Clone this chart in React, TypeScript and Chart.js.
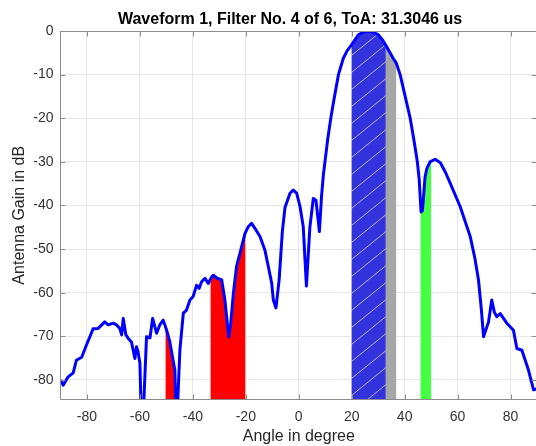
import React, { useEffect, useRef } from "react";
import { Chart, registerables } from "chart.js";

Chart.register(...registerables);

const titleText = "Waveform 1, Filter No. 4 of 6, ToA: 31.3046 us";
const xLabel = "Angle in degree";
const yLabel = "Antenna Gain in dB";

const xTicks = [-80, -60, -40, -20, 0, 20, 40, 60, 80];
const yTicks = [-80, -70, -60, -50, -40, -30, -20, -10, 0];

const angles = [
  -90, -89, -87.1, -85.2, -84, -82, -80.2, -78.9, -77.7, -75.8, -75.1, -73.3, -72, -70.1, -68.8,
  -67.6, -66.9, -66.3, -65.3, -64.4, -63.2, -61.9, -61.3, -60.7, -60, -59.2, -57.5, -56.2, -55.2,
  -53.7, -52.5, -51.2, -49.9, -48.7, -46.8, -46.2, -44.9, -43.6, -42.4, -41.1, -39.9, -38.6, -37.6,
  -36.7, -35.4, -34.2, -32.9, -32.3, -30.8, -29.1, -27.9, -27, -26.4, -25.7, -24.7, -23.5, -21.6,
  -20.3, -19.1, -17.8, -16.5, -14.6, -12.8, -11.5, -10.2, -9.6, -8.6, -7.4, -6.2, -5.2, -3.3, -2.1,
  -0.8, 0.5, 1.7, 2.9, 4.2, 5.5, 6.5, 7.8, 8.6, 9.3, 9.9, 10.9, 12.1, 13.5, 15.0, 16.8, 18.3, 20,
  22.5, 24.3, 26.3, 28.2, 30.1, 31.6, 33, 35.7, 36.8, 38.3, 40.2, 42.1, 43.5, 44.8, 45.5, 46.2,
  46.7, 47.1, 47.7, 48.4, 49.6, 51.5, 53.5, 55.5, 57.2, 61, 64.8, 66.5, 67.9, 69, 69.8, 71.7, 72.9,
  73.9, 74.8, 76.1, 78.6, 81.1, 82.4, 84.3, 86.8, 88.7, 90,
];

const gainDb = [
  -80, -81.2, -79.3, -78.4, -75.5, -74.8, -72, -70.1, -68.3, -68.2, -67.8, -66.7, -67.4, -67, -67.4,
  -68.2, -69.7, -65.9, -69.7, -70.5, -71.3, -75.1, -72.4, -73.6, -76.2, -95, -70.1, -70.4, -65.9,
  -69.3, -67.4, -66.3, -68.6, -71.3, -77.8, -92, -73.2, -64.7, -64, -61.7, -60.9, -58.3, -59,
  -57.5, -56.7, -57.9, -56.4, -56, -56.7, -57.1, -61.7, -67, -70.1, -67, -60.2, -54, -49.5,
  -46.4, -44.9, -44.1, -45.3, -47.2, -50.2, -54, -57.9, -61.7, -63.5, -57, -46, -40.5, -37.2, -36.5,
  -37.2, -40.3, -44.9, -58.5, -45, -38.4, -38.8, -46, -38, -33, -30, -25, -20, -15, -10, -6.3, -4.5, -3.1,
  -0.9, -0.3, 0, -0.3, -0.9, -2, -3.4, -6.3, -7.3, -10, -15, -20, -25, -30, -34, -41.5,
  -41.2, -38.4, -33.5, -31.5, -30, -29.4, -30.2, -32.5, -34.9, -40.3, -47.2, -52, -57.1, -64, -70.1, -66.7, -61.7,
  -64.5, -65.5, -64.8, -67, -68.6, -72.8, -73.2, -77.8, -82.3, -82,
];

// shaded angular sectors (degrees)
const regionFrom = [-50.3, -33.3, 20.0, 32.9, 46.0];
const regionTo = [-46.1, -20.2, 32.9, 36.8, 50.0];

const FONT = '"Liberation Sans", Arial, Helvetica, sans-serif';
const REGION_FILLS = ["#ff0000", "#ff0000", "hatch", "#a6a6a6", "#44ff44"];

function makeHatch(ctx: CanvasRenderingContext2D) {
  const w = 21;
  const h = 17;
  const c = document.createElement("canvas");
  c.width = w;
  c.height = h;
  const g = c.getContext("2d")!;
  g.fillStyle = "#3333dd";
  g.fillRect(0, 0, w, h);
  g.strokeStyle = "#b4b4c8";
  g.lineWidth = 1;
  g.beginPath();
  g.moveTo(-w, 2 * h);
  g.lineTo(2 * w, -h);
  g.stroke();
  return ctx.createPattern(c, "repeat");
}

export default function App() {
  const ref = useRef<HTMLCanvasElement>(null);

  useEffect(() => {
    const canvas = ref.current!;
    const ctx0 = canvas.getContext("2d")!;
    const hatch = makeHatch(ctx0);

    const fillPlugin = {
      id: "regionFill",
      beforeDatasetsDraw(chart: any) {
        const { ctx, chartArea } = chart;
        const xs = chart.scales.x;
        const ys = chart.scales.y;
        regionFrom.forEach((from, i) => {
          const x0 = xs.getPixelForValue(from);
          const x1 = xs.getPixelForValue(regionTo[i]);
          ctx.save();
          ctx.beginPath();
          ctx.rect(x0, chartArea.top, x1 - x0, chartArea.bottom - chartArea.top);
          ctx.clip();
          ctx.beginPath();
          ctx.moveTo(xs.getPixelForValue(angles[0]), chartArea.bottom);
          angles.forEach((a, j) => {
            ctx.lineTo(xs.getPixelForValue(a), ys.getPixelForValue(gainDb[j]));
          });
          ctx.lineTo(xs.getPixelForValue(angles[angles.length - 1]), chartArea.bottom);
          ctx.closePath();
          const f = REGION_FILLS[i];
          ctx.fillStyle = f === "hatch" ? (hatch as any) : f;
          ctx.fill();
          ctx.restore();
        });
      },
    };

    const framePlugin = {
      id: "frame",
      afterDatasetsDraw(chart: any) {
        const { ctx, chartArea } = chart;
        const xs = chart.scales.x;
        const ys = chart.scales.y;
        const L = Math.round(chartArea.left) - 0.5 + 0;
        const R = Math.round(chartArea.right) - 0.5;
        const T = Math.round(chartArea.top) + 0.5;
        const B = Math.round(chartArea.bottom) - 0.5;
        ctx.save();
        ctx.strokeStyle = "#8c8c8c";
        ctx.lineWidth = 1;
        ctx.beginPath();
        ctx.moveTo(L, T);
        ctx.lineTo(R, T);
        ctx.lineTo(R, B);
        ctx.lineTo(L, B);
        ctx.closePath();
        ctx.stroke();
        ctx.beginPath();
        xTicks.forEach((v) => {
          const px = Math.round(xs.getPixelForValue(v)) + 0.5;
          ctx.moveTo(px, B);
          ctx.lineTo(px, B - 5);
          ctx.moveTo(px, T);
          ctx.lineTo(px, T + 5);
        });
        yTicks.forEach((v) => {
          const py = Math.round(ys.getPixelForValue(v)) + 0.5;
          ctx.moveTo(L, py);
          ctx.lineTo(L + 5, py);
          ctx.moveTo(R, py);
          ctx.lineTo(R - 5, py);
        });
        ctx.stroke();

        ctx.fillStyle = "#000";
        ctx.font = `bold 16px ${FONT}`;
        ctx.textAlign = "center";
        ctx.textBaseline = "alphabetic";
        ctx.fillText(titleText, 290, 24);

        ctx.fillStyle = "#262626";
        ctx.font = `16px ${FONT}`;
        ctx.fillText(xLabel, (chartArea.left + chartArea.right) / 2, 441);

        ctx.translate(23.5, (chartArea.top + chartArea.bottom) / 2);
        ctx.rotate(-Math.PI / 2);
        ctx.fillText(yLabel, 0, 0);
        ctx.restore();
      },
    };

    const chart = new Chart(canvas, {
      type: "line",
      data: {
        datasets: [
          {
            data: angles.map((a, i) => ({ x: a, y: gainDb[i] })),
            borderColor: "#0000ff",
            borderWidth: 3,
            pointRadius: 0,
            tension: 0,
            fill: false,
            borderJoinStyle: "round",
          } as any,
        ],
      },
      options: {
        responsive: false,
        animation: false,
        devicePixelRatio: 1,
        layout: { padding: { top: 31, right: 8, left: 0, bottom: 0 } },
        plugins: {
          legend: { display: false },
          tooltip: { enabled: false },
          title: { display: false },
        },
        scales: {
          x: {
            type: "linear",
            min: -90,
            max: 90,
            afterBuildTicks: (s: any) => {
              s.ticks = xTicks.map((v) => ({ value: v }));
            },
            afterFit: (s: any) => {
              s.height = 46.5;
            },
            grid: { color: "#e6e6e6", drawTicks: false },
            border: { display: false },
            ticks: { padding: 9, color: "#333333", font: { family: FONT, size: 14 }, maxRotation: 0 },
          },
          y: {
            type: "linear",
            min: -84.5,
            max: 0,
            afterBuildTicks: (s: any) => {
              s.ticks = yTicks.map((v) => ({ value: v }));
            },
            afterFit: (s: any) => {
              s.width = 60.5;
            },
            grid: { color: "#e6e6e6", drawTicks: false },
            border: { display: false },
            ticks: { padding: 7, color: "#333333", font: { family: FONT, size: 14 } },
          },
        },
      } as any,
      plugins: [fillPlugin, framePlugin],
    });
    return () => chart.destroy();
  }, []);

  return (
    <div
      style={{
        position: "fixed",
        left: 0,
        top: 0,
        width: 536,
        height: 446,
        overflow: "hidden",
        background: "#fff",
      }}
    >
      <canvas ref={ref} width={545} height={446} style={{ display: "block" }} />
    </div>
  );
}
